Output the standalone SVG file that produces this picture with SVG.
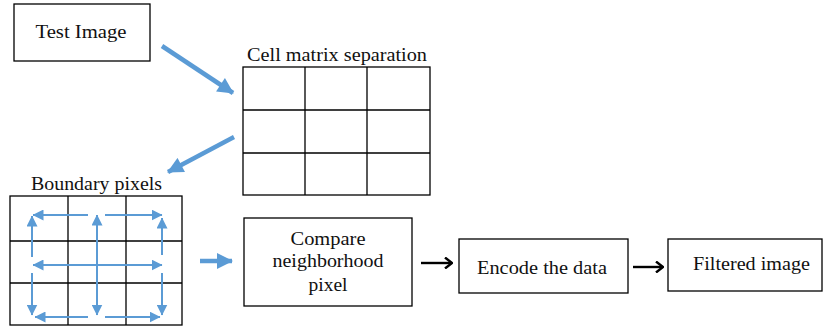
<svg xmlns="http://www.w3.org/2000/svg" width="823" height="327" viewBox="0 0 823 327">
<style>
.box{fill:#fff;stroke:#000;stroke-width:1.3}
.grid{fill:none;stroke:#000;stroke-width:1.3}
.t{font-size:19px;fill:#111;text-anchor:middle}
.thick{stroke:#5B9BD5;stroke-width:4.5;fill:none}
.thin{stroke:#5B9BD5;stroke-width:2;fill:none}
.blk{stroke:#000;stroke-width:2.4;fill:none}
</style>
<defs>
<marker id="bigHead" markerUnits="userSpaceOnUse" viewBox="0 0 16 16" refX="15" refY="8" markerWidth="17" markerHeight="16" orient="auto">
<path d="M0,0 L16,8 L0,16 Z" fill="#5B9BD5"/>
</marker>
<marker id="smallHead" markerUnits="userSpaceOnUse" viewBox="0 0 11 11" refX="10.5" refY="5.5" markerWidth="11" markerHeight="11" orient="auto-start-reverse">
<path d="M0,0 L11,5.5 L0,11 Z" fill="#5B9BD5"/>
</marker>
<marker id="blkHead" markerUnits="userSpaceOnUse" viewBox="0 0 10 12" refX="9" refY="6" markerWidth="10" markerHeight="12" orient="auto">
<path d="M2,0.5 L9,6 L2,11.5" fill="none" stroke="#000" stroke-width="2.4"/>
</marker>
</defs>

<g id="test-image" font-family="Liberation Serif, serif">
<rect class="box" x="14" y="4" width="136" height="57"/>
<text class="t" x="81" y="38" textLength="91" lengthAdjust="spacingAndGlyphs">Test Image</text>
</g>

<g id="cell-matrix" font-family="Liberation Serif, serif">
<text class="t" x="337" y="61" textLength="180" lengthAdjust="spacingAndGlyphs">Cell matrix separation</text>
<rect class="grid" x="243" y="67" width="187" height="128"/>
<path class="grid" d="M305,67 V195 M367,67 V195 M243,110 H430 M243,153 H430"/>
</g>

<g id="boundary-pixels" font-family="Liberation Serif, serif">
<text class="t" x="96.5" y="190" textLength="131" lengthAdjust="spacingAndGlyphs">Boundary pixels</text>
<rect class="grid" x="10" y="196" width="172" height="129"/>
<path class="grid" d="M68,196 V325 M126,196 V325 M10,241 H182 M10,283 H182"/>
<g id="boundary-arrows">
<line class="thin" x1="88" y1="215" x2="33" y2="215" marker-end="url(#smallHead)"/>
<line class="thin" x1="32" y1="257" x2="32" y2="216" marker-end="url(#smallHead)"/>
<line class="thin" x1="105" y1="215" x2="162" y2="215" marker-end="url(#smallHead)"/>
<line class="thin" x1="162" y1="255" x2="162" y2="218" marker-end="url(#smallHead)"/>
<line class="thin" x1="97" y1="315" x2="97" y2="215" marker-start="url(#smallHead)" marker-end="url(#smallHead)"/>
<line class="thin" x1="33" y1="265" x2="162" y2="265" marker-start="url(#smallHead)" marker-end="url(#smallHead)"/>
<line class="thin" x1="32" y1="273" x2="32" y2="315" marker-end="url(#smallHead)"/>
<line class="thin" x1="162" y1="273" x2="162" y2="315" marker-end="url(#smallHead)"/>
<line class="thin" x1="88" y1="317" x2="35" y2="317" marker-end="url(#smallHead)"/>
<line class="thin" x1="105" y1="317" x2="160" y2="317" marker-end="url(#smallHead)"/>
</g>
</g>

<g id="compare" font-family="Liberation Serif, serif">
<rect class="box" x="244" y="218" width="168" height="88"/>
<text class="t" x="328" y="245" textLength="75" lengthAdjust="spacingAndGlyphs">Compare</text>
<text class="t" x="328" y="267" textLength="111" lengthAdjust="spacingAndGlyphs">neighborhood</text>
<text class="t" x="328" y="291" textLength="39" lengthAdjust="spacingAndGlyphs">pixel</text>
</g>

<g id="encode" font-family="Liberation Serif, serif">
<rect class="box" x="459" y="239" width="169" height="54"/>
<text class="t" x="542" y="274" textLength="130" lengthAdjust="spacingAndGlyphs">Encode the data</text>
</g>

<g id="filtered" font-family="Liberation Serif, serif">
<rect class="box" x="668" y="239" width="154" height="52"/>
<text class="t" x="751.5" y="270" textLength="117" lengthAdjust="spacingAndGlyphs">Filtered image</text>
</g>

<g id="connectors">
<line class="thick" x1="162" y1="46" x2="233" y2="93" marker-end="url(#bigHead)"/>
<line class="thick" x1="234" y1="137" x2="168" y2="172" marker-end="url(#bigHead)"/>
<line class="thick" x1="200" y1="261" x2="232" y2="261" marker-end="url(#bigHead)"/>
<line class="blk" x1="421" y1="263" x2="452" y2="263" marker-end="url(#blkHead)"/>
<line class="blk" x1="633" y1="267" x2="663" y2="267" marker-end="url(#blkHead)"/>
</g>
</svg>
